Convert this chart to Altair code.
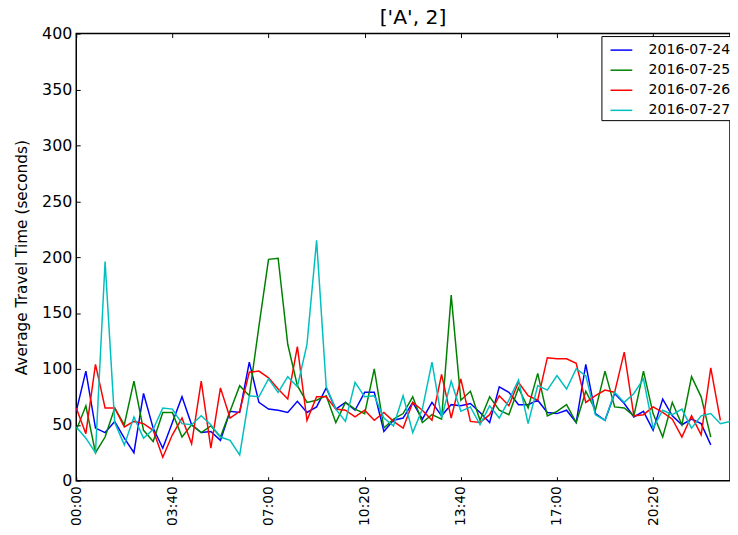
import altair as alt
import pandas as pd

dates = ["2016-07-24", "2016-07-25", "2016-07-26", "2016-07-27"]
colors = ["#0000ff", "#008000", "#ff0000", "#00bfbf"]
tick_positions = [0, 10, 20, 30, 40, 50, 60]
tick_labels = ["00:00", "03:40", "07:00", "10:20", "13:40", "17:00", "20:20"]

s_0724 = [62, 98, 47, 43, 53, 38, 25, 78, 47, 29, 52, 75, 50, 43, 44, 36, 62, 61, 106, 70,
          64, 63, 61, 71, 61, 66, 83, 64, 70, 63, 79, 79, 44, 54, 56, 70, 55, 70, 58, 68,
          67, 69, 61, 52, 84, 79, 68, 68, 72, 61, 60, 63, 52, 104, 60, 54, 78, 69, 57, 62,
          45, 73, 58, 50, 55, 51, 32]
s_0725 = [45, 67, 25, 39, 65, 50, 89, 45, 35, 61, 61, 39, 50, 43, 49, 39, 62, 85, 76, 138,
          198, 199, 122, 85, 70, 72, 76, 52, 70, 64, 60, 100, 47, 55, 60, 75, 52, 59, 55, 166,
          72, 80, 54, 75, 63, 59, 83, 65, 96, 58, 62, 68, 52, 80, 63, 98, 66, 65, 58, 98,
          60, 39, 70, 50, 93, 75, 39]
s_0726 = [65, 42, 104, 65, 65, 48, 53, 51, 45, 21, 41, 56, 33, 89, 29, 83, 56, 62, 97, 98,
          92, 82, 73, 120, 54, 75, 75, 64, 63, 57, 63, 54, 61, 53, 47, 70, 63, 54, 95, 56,
          91, 53, 52, 59, 76, 67, 88, 76, 72, 110, 109, 109, 105, 70, 76, 81, 79, 115, 58, 59,
          66, 61, 55, 39, 58, 41, 101, 54]
s_0727 = [48, 38, 25, 196, 52, 32, 57, 38, 46, 65, 64, 51, 50, 58, 50, 39, 36, 23, 76, 75,
          91, 79, 93, 84, 122, 215, 84, 64, 53, 88, 75, 76, 56, 49, 76, 43, 64, 106, 56, 89,
          62, 66, 50, 67, 56, 72, 90, 51, 85, 81, 94, 82, 100, 94, 59, 54, 79, 70, 78, 91,
          47, 63, 59, 64, 47, 58, 60, 51, 53]

series = [s_0724, s_0725, s_0726, s_0727]
rows = []
for d, s in zip(dates, series):
    for i, v in enumerate(s):
        rows.append({"idx": i, "value": v, "date": d})
df = pd.DataFrame(rows)

FONT = "DejaVu Sans"
label_expr = "[" + ",".join("'" + t + "'" for t in tick_labels) + "][round(datum.value/10)]"

x_bottom = alt.Axis(values=tick_positions, labelExpr=label_expr, labelAngle=270,
                    labelFont=FONT, labelFontSize=14, labelColor="black",
                    tickSize=4, tickColor="black", offset=-4, labelPadding=5,
                    domain=False, grid=False, title=None, orient="bottom")
x_top = alt.Axis(values=tick_positions, labels=False, tickSize=4, tickColor="black",
                 offset=-4, domain=False, grid=False, title=None, orient="top")
y_axis = alt.Axis(values=list(range(0, 401, 50)), labelFont=FONT, labelFontSize=16,
                  labelColor="black", tickSize=4, tickColor="black", offset=-4,
                  labelPadding=4.5, domain=False, grid=False,
                  title="Average Travel Time (seconds)", titleFont=FONT,
                  titleFontSize=15.5, titleFontWeight="normal", titleColor="black",
                  titlePadding=12, orient="left")

xscale = alt.Scale(domain=[0, 68], nice=False, zero=False)
yscale = alt.Scale(domain=[0, 400], nice=False)

lines = alt.Chart(df).mark_line(strokeWidth=1.5, clip=True).encode(
    x=alt.X("idx:Q", scale=xscale, axis=x_bottom),
    y=alt.Y("value:Q", scale=yscale, axis=y_axis),
    color=alt.Color("date:N", scale=alt.Scale(domain=dates, range=colors),
                    legend=alt.Legend(title=None, orient="none", legendX=531, legendY=2.5,
                                      symbolType="stroke", symbolSize=484,
                                      symbolStrokeWidth=1.5, symbolOffset=6,
                                      labelFont=FONT,
                                      labelFontSize=14.2, labelColor="black",
                                      labelOffset=15.5, rowPadding=0.3, padding=2.2,
                                      fillColor="white", strokeColor="black",
                                      cornerRadius=0)),
)

top_ticks = alt.Chart(df).mark_line(opacity=0).encode(
    x=alt.X("idx:Q", scale=xscale, axis=x_top),
    y=alt.Y("value:Q", scale=yscale, axis=y_axis),
)

chart = alt.layer(lines, top_ticks).resolve_axis(x="independent").properties(
    width=661, height=452,
    autosize=alt.AutoSizeParams(type="none"),
    padding={"left": 69, "top": 23, "right": 0, "bottom": 44},
    title=alt.TitleParams(text="['A', 2]", font=FONT, fontSize=20.5, fontWeight="normal",
                          color="black", anchor="middle", frame="group", offset=6,
                          baseline="alphabetic", dx=10, dy=25),
).configure_view(stroke="black", strokeWidth=1.5)

chart.save("out.html", embed_options={"renderer": "svg", "actions": False})
